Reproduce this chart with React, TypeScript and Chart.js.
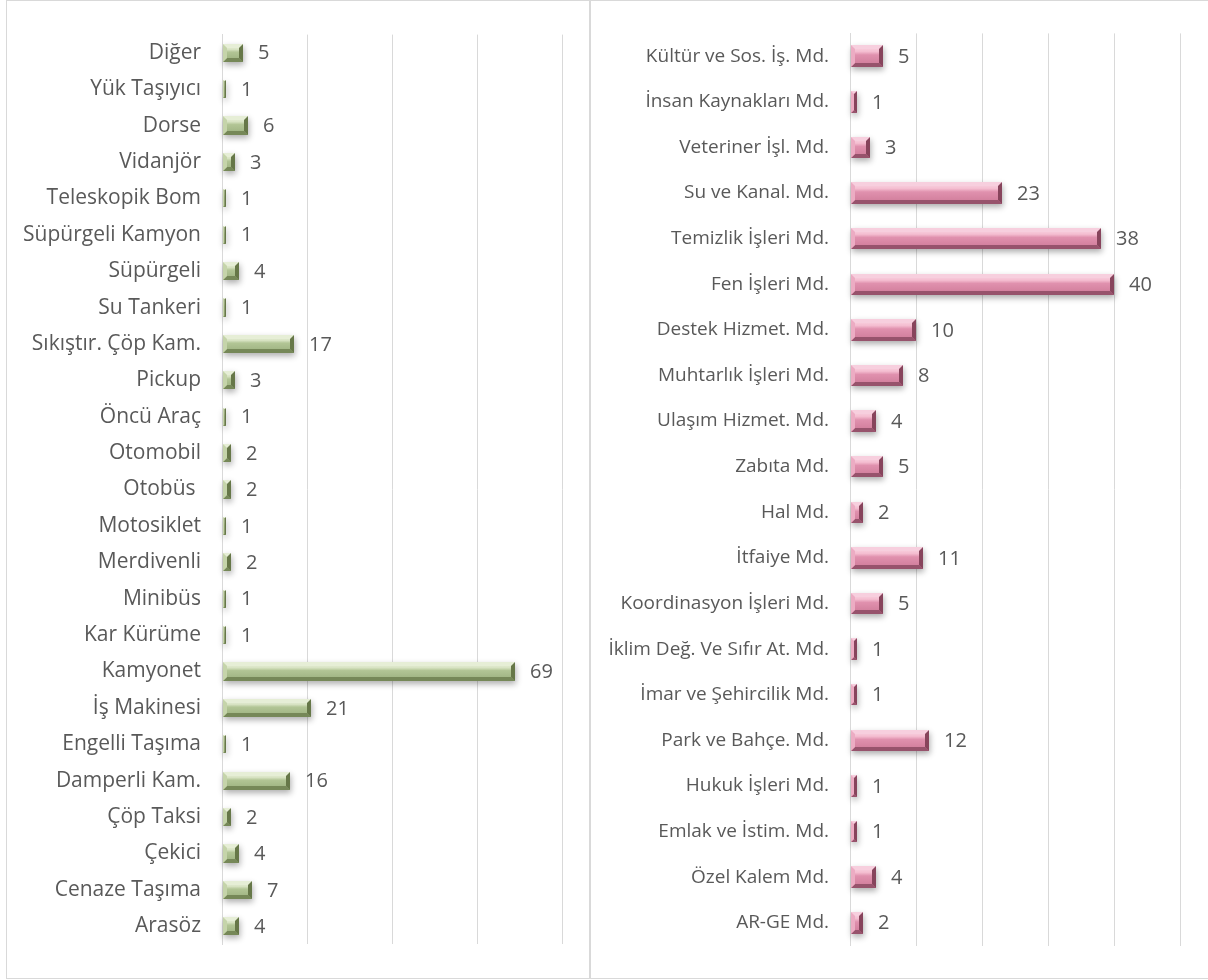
import React, { useEffect, useRef } from "react";
import { Chart, registerables } from "chart.js";

Chart.register(...registerables);

const vehicleLabels = [
  "Diğer", "Yük Taşıyıcı", "Dorse", "Vidanjör", "Teleskopik Bom", "Süpürgeli Kamyon",
  "Süpürgeli", "Su Tankeri", "Sıkıştır. Çöp Kam.", "Pickup", "Öncü Araç", "Otomobil",
  "Otobüs ", "Motosiklet", "Merdivenli", "Minibüs", "Kar Kürüme", "Kamyonet",
  "İş Makinesi", "Engelli Taşıma", "Damperli Kam.", "Çöp Taksi", "Çekici",
  "Cenaze Taşıma", "Arasöz",
];
const vehicleValues = [5, 1, 6, 3, 1, 1, 4, 1, 17, 3, 1, 2, 2, 1, 2, 1, 1, 69, 21, 1, 16, 2, 4, 7, 4];

const unitLabels = [
  "Kültür ve Sos. İş. Md.", "İnsan Kaynakları Md.", "Veteriner İşl. Md.", "Su ve Kanal. Md.",
  "Temizlik İşleri Md.", "Fen İşleri Md.", "Destek Hizmet. Md.", "Muhtarlık İşleri Md.",
  "Ulaşım Hizmet. Md.", "Zabıta Md.", "Hal Md.", "İtfaiye Md.", "Koordinasyon İşleri Md.",
  "İklim Değ. Ve Sıfır At. Md.", "İmar ve Şehircilik Md.", "Park ve Bahçe. Md.",
  "Hukuk İşleri Md.", "Emlak ve İstim. Md.", "Özel Kalem Md.", "AR-GE Md.",
];
const unitValues = [5, 1, 3, 23, 38, 40, 10, 8, 4, 5, 2, 11, 5, 1, 1, 12, 1, 1, 4, 2];

const vehicleAxisMax = 80;
const vehicleAxisStep = 20;
const unitAxisMax = 50;
const unitAxisStep = 10;

const FONT = "'Open Sans', 'Noto Sans', sans-serif";
const TEXT = "#595959";
const GRID = "#d9d9d9";

type Palette = {
  hi: string; face1: string; face2: string; face3: string;
  top: string; bottom: string; left: string; right: string; shadow: string;
};

const green: Palette = {
  hi: "#eef4e2", face1: "#d8e3c3", face2: "#b2c595", face3: "#9aaf7d",
  top: "#e6eed6", bottom: "#768858", left: "#c5d4aa", right: "#667748", shadow: "rgba(0,0,0,0.32)",
};
const pink: Palette = {
  hi: "#fbdde8", face1: "#f4bdd0", face2: "#e091ae", face3: "#cd7997",
  top: "#f7cfde", bottom: "#97536c", left: "#ecacc3", right: "#87445c", shadow: "rgba(0,0,0,0.32)",
};

function makeBevelPlugin(p: Palette, labelFont: string, labelGap: number) {
  return {
    id: "bevelBars",
    afterDatasetsDraw(chart: any) {
      const ctx = chart.ctx as CanvasRenderingContext2D;
      const meta = chart.getDatasetMeta(0);
      const data = chart.data.datasets[0].data as number[];
      meta.data.forEach((el: any, i: number) => {
        const x0 = Math.round(el.base);
        const x1 = Math.round(el.x);
        const h = el.height;
        const top = Math.round(el.y - h / 2);
        const bot = Math.round(el.y + h / 2);
        const w = x1 - x0;
        const hh = bot - top;
        ctx.save();
        ctx.shadowColor = p.shadow;
        ctx.shadowBlur = 6;
        ctx.shadowOffsetX = 1;
        ctx.shadowOffsetY = 3;
        ctx.fillStyle = p.face2;
        ctx.fillRect(x0, top, w, hh);
        ctx.restore();

        ctx.save();
        const g = ctx.createLinearGradient(0, top, 0, bot);
        g.addColorStop(0, p.hi);
        g.addColorStop(0.3, p.face1);
        g.addColorStop(0.45, p.face2);
        g.addColorStop(1, p.face3);
        ctx.fillStyle = g;
        ctx.fillRect(x0, top, w, hh);

        const b = Math.max(1, Math.min(4, w / 2, hh / 2));
        ctx.fillStyle = p.top;
        ctx.beginPath();
        ctx.moveTo(x0, top); ctx.lineTo(x1, top); ctx.lineTo(x1 - b, top + b); ctx.lineTo(x0 + b, top + b);
        ctx.closePath(); ctx.fill();
        ctx.fillStyle = p.bottom;
        ctx.beginPath();
        ctx.moveTo(x0, bot); ctx.lineTo(x1, bot); ctx.lineTo(x1 - b, bot - b); ctx.lineTo(x0 + b, bot - b);
        ctx.closePath(); ctx.fill();
        ctx.fillStyle = p.left;
        ctx.beginPath();
        ctx.moveTo(x0, top); ctx.lineTo(x0 + b, top + b); ctx.lineTo(x0 + b, bot - b); ctx.lineTo(x0, bot);
        ctx.closePath(); ctx.fill();
        ctx.fillStyle = p.right;
        ctx.beginPath();
        ctx.moveTo(x1, top); ctx.lineTo(x1 - b, top + b); ctx.lineTo(x1 - b, bot - b); ctx.lineTo(x1, bot);
        ctx.closePath(); ctx.fill();
        ctx.restore();

        ctx.save();
        ctx.fillStyle = TEXT;
        ctx.font = labelFont;
        ctx.textAlign = "left";
        ctx.textBaseline = "middle";
        ctx.fillText(String(data[i]), x1 + labelGap, el.y + 1);
        ctx.restore();
      });
    },
  };
}

type Props = {
  labels: string[];
  values: number[];
  max: number;
  step: number;
  palette: Palette;
  width: number;
  height: number;
  axisWidth: number;
  pad: { top: number; right: number; bottom: number };
  tickFontSize: number;
  valueFontSize: number;
  barPct: number;
};

function BarPanel(props: Props) {
  const ref = useRef<HTMLCanvasElement | null>(null);
  useEffect(() => {
    if (!ref.current) return;
    const chart = new Chart(ref.current, {
      type: "bar",
      data: {
        labels: props.labels,
        datasets: [
          {
            data: props.values,
            backgroundColor: "rgba(0,0,0,0)",
            borderWidth: 0,
            barPercentage: props.barPct,
            categoryPercentage: 1,
          },
        ],
      },
      options: {
        indexAxis: "y",
        animation: false,
        responsive: false,
        maintainAspectRatio: false,
        layout: { padding: { left: 0, top: props.pad.top, right: props.pad.right, bottom: props.pad.bottom } },
        plugins: { legend: { display: false }, tooltip: { enabled: false }, title: { display: false } },
        scales: {
          x: {
            min: 0,
            max: props.max,
            ticks: { display: false, stepSize: props.step },
            grid: { color: GRID, lineWidth: 1, drawTicks: false },
            border: { display: false },
            afterFit: (s: any) => { s.height = 0; },
          },
          y: {
            grid: { display: false, drawTicks: false },
            border: { display: true, color: GRID, width: 1 },
            ticks: {
              color: TEXT,
              padding: 21,
              autoSkip: false,
              font: { family: FONT, size: props.tickFontSize },
            },
            afterFit: (s: any) => { s.width = props.axisWidth; },
          },
        },
      } as any,
      plugins: [makeBevelPlugin(props.palette, `${props.valueFontSize}px ${FONT}`, 15)],
    });
    return () => chart.destroy();
  }, []);
  return (
    <canvas
      ref={ref}
      width={props.width}
      height={props.height}
      style={{ display: "block", width: props.width, height: props.height }}
    />
  );
}

export default function App() {
  return (
    <div
      style={{
        position: "absolute", left: 0, top: 0, width: 1208, height: 980,
        overflow: "hidden", background: "#ffffff",
      }}
    >
      <div
        style={{
          position: "absolute", left: 6, top: 0, width: 582, height: 977,
          border: "1px solid #d9d9d9", background: "#fff",
        }}
      >
        <BarPanel
          labels={vehicleLabels}
          values={vehicleValues}
          max={vehicleAxisMax}
          step={vehicleAxisStep}
          palette={green}
          width={582}
          height={977}
          axisWidth={215}
          pad={{ top: 33, right: 27, bottom: 32 }}
          tickFontSize={21}
          valueFontSize={20}
          barPct={0.5}
        />
      </div>
      <div
        style={{
          position: "absolute", left: 590, top: 0, width: 630, height: 977,
          border: "1px solid #d9d9d9", background: "#fff",
        }}
      >
        <BarPanel
          labels={unitLabels}
          values={unitValues}
          max={unitAxisMax}
          step={unitAxisStep}
          palette={pink}
          width={617}
          height={977}
          axisWidth={259}
          pad={{ top: 28, right: 28, bottom: 28 }}
          tickFontSize={19}
          valueFontSize={20}
          barPct={0.47}
        />
      </div>
    </div>
  );
}
